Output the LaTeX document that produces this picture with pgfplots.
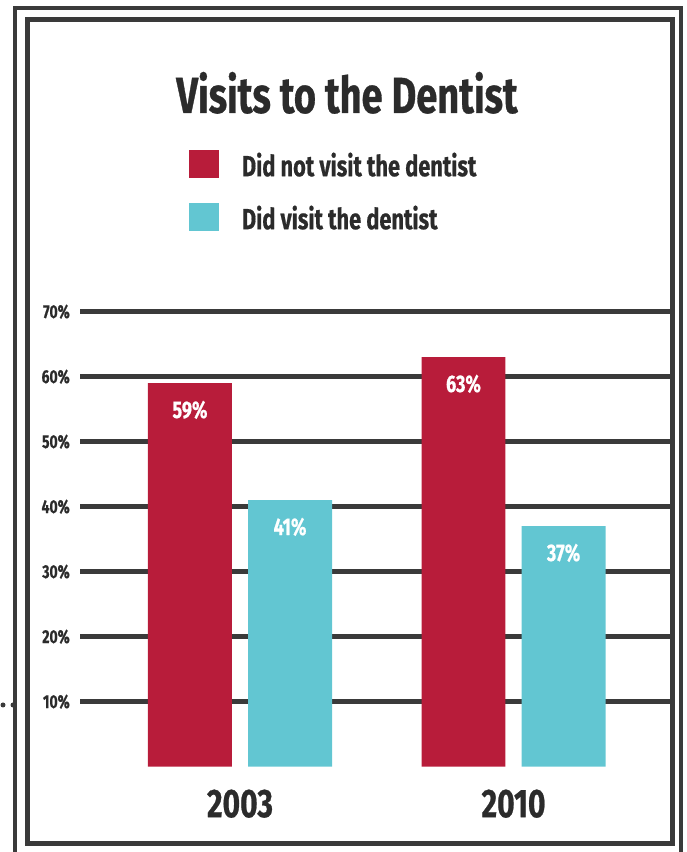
\documentclass[border=0pt]{standalone}
\usepackage{pgfplots}
\pgfplotsset{compat=1.18}
\usepackage{fontspec}
\setmainfont{Fira Sans}
\newfontfamily\cb{Fira Sans}[FakeStretch=0.75, FakeBold=0.6]
\definecolor{barred}{HTML}{B81C3A}
\definecolor{barcyan}{HTML}{62C6D2}
\definecolor{linegray}{HTML}{3A3A3A}
\definecolor{textgray}{HTML}{2B2B2B}
\pgfplotsset{
  sqlegend/.style={legend image code/.code={\fill[##1] (0pt,-9pt) rectangle (22.5pt,12pt);}},
}
\begin{document}
\begin{tikzpicture}
\begin{scope}[x=0.75pt,y=0.75pt]
\useasboundingbox (0,0) rectangle (686,852);
% frames
\draw[linegray, line width=3pt] (15,844) rectangle (681,-20);
\draw[linegray, line width=3.75pt] (27,832) rectangle (672,8);
\fill[linegray] (3,147) circle (2.5);
\fill[linegray] (13,147) circle (2.5);
% title
\node[font=\cb\bfseries\fontsize{38}{38}\selectfont, text=textgray, anchor=base] at (347,739) {Visits to the Dentist};
\end{scope}
\begin{axis}[
  at={(60pt,63.975pt)}, anchor=south west,
  scale only axis, width=442.5pt, height=341.25pt,
  xmin=-0.585, xmax=1.572, ymin=0, ymax=70,
  axis line style={draw=none}, tick style={draw=none},
  ytick={10,20,...,70},
  ymajorgrids, major grid style={linegray, line width=3.4pt},
  yticklabel={\pgfmathprintnumber{\tick}\%},
  yticklabel style={font=\cb\bfseries\fontsize{14}{14}\selectfont, text=textgray, anchor=east, inner sep=0pt, xshift=-7.5pt},
  xtick={0,1}, xticklabels={2003,2010},
  xticklabel style={font=\cb\bfseries\fontsize{30}{30}\selectfont, text=textgray, anchor=center, inner sep=0pt, yshift=-23.5pt},
  /pgf/number format/assume math mode=true,
  ybar, bar width=0.307,
  nodes near coords={\pgfmathprintnumber{\pgfplotspointmeta}\%},
  every node near coord/.append style={font=\cb\bfseries\fontsize{18}{18}\selectfont, text=white, anchor=center, yshift=-20pt},
  legend style={at={(axis description cs:0.1847,1.355)}, anchor=north west, draw=none, fill=none, inner sep=0pt, outer sep=0pt,
    row sep=17.25pt, column sep=17.25pt,
    nodes={inner sep=0pt, text height=18pt, text depth=3pt, font=\cb\bfseries\fontsize{21.8}{21.8}\selectfont, text=textgray}},
  legend cell align=left,
]
\addplot[fill=barred, draw=none, bar shift=-0.183, sqlegend] coordinates {(0,59) (1,63)};
\addlegendentry{Did not visit the dentist}
\addplot[fill=barcyan, draw=none, bar shift=0.183, sqlegend] coordinates {(0,41) (1,37)};
\addlegendentry{Did visit the dentist}
\end{axis}
\end{tikzpicture}
\end{document}
